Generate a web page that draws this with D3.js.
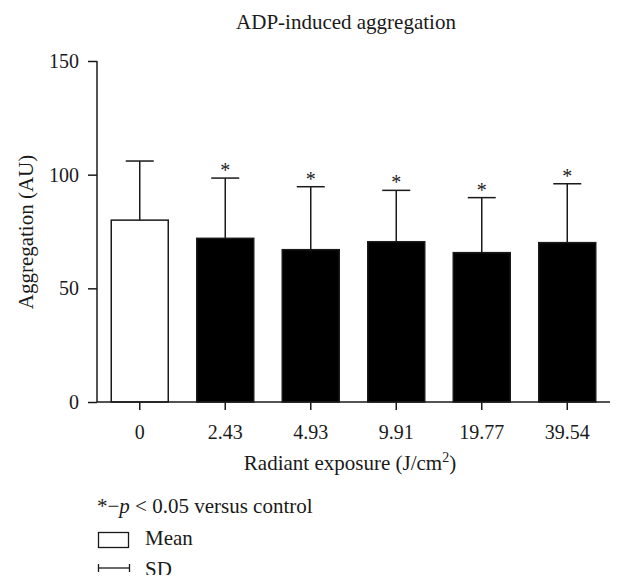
<!DOCTYPE html>
<html><head><meta charset="utf-8">
<script src="https://cdn.jsdelivr.net/npm/d3@7"></script>
<style>body{margin:0;background:#fff}svg{display:block}text{font-family:"Liberation Serif","DejaVu Serif",serif;fill:#1a1a1a}</style>
</head><body>
<script>
const categories = ["0","2.43","4.93","9.91","19.77","39.54"];
const means = [80, 72, 67, 70.5, 65.7, 70.1];
const sds = [26, 26.5, 27.7, 22.6, 24.2, 25.9];
const significant = [false, true, true, true, true, true];
const yTicks = [0, 50, 100, 150];

const W = 624, H = 587;
const svg = d3.select("body").append("svg").attr("width", W).attr("height", H);
const x = d3.scaleBand().domain(categories).range([97, 610]).paddingInner(1/3).paddingOuter(1/6);
const y = d3.scaleLinear().domain([0, 150]).range([402, 61]);

const col = "#1a1a1a";
const FS = 21;
// bars
svg.selectAll("rect.bar").data(categories).join("rect")
  .attr("x", d => x(d)).attr("width", x.bandwidth())
  .attr("y", (d,i) => y(means[i])).attr("height", (d,i) => y(0) - y(means[i]))
  .attr("fill", (d,i) => i === 0 ? "#fff" : "#000")
  .attr("stroke", col).attr("stroke-width", 1.5);
// error bars
const eb = svg.append("g").attr("stroke", col).attr("stroke-width", 1.5);
categories.forEach((c,i) => {
  const cx = x(c) + x.bandwidth()/2;
  eb.append("line").attr("x1", cx).attr("x2", cx).attr("y1", y(means[i])).attr("y2", y(means[i]+sds[i]));
  eb.append("line").attr("x1", cx-14).attr("x2", cx+14).attr("y1", y(means[i]+sds[i])).attr("y2", y(means[i]+sds[i]));
  if (significant[i]) {
    svg.append("text").attr("x", cx).attr("y", y(means[i]+sds[i]) - 1)
      .attr("text-anchor","middle").attr("font-size", 20).attr("fill", "#333").text("*");
  }
});

// axes
const ya = svg.append("g").attr("transform", "translate(97,0)")
  .call(d3.axisLeft(y).tickValues(yTicks).tickSize(9).tickPadding(9));
const xa = svg.append("g").attr("transform", "translate(0,402)")
  .call(d3.axisBottom(x).tickSize(8).tickPadding(15).tickSizeOuter(0));
[ya, xa].forEach(a => {
  a.select(".domain").attr("stroke", col).attr("stroke-width", 1.5);
  a.selectAll(".tick line").attr("stroke", col).attr("stroke-width", 1.5);
  a.selectAll(".tick text").attr("font-size", 20).attr("font-family", '"Liberation Serif",serif').attr("fill", col);
});
ya.select(".domain").attr("d", "M0,61V402");
xa.select(".domain").attr("d", "M97,0H610");

// titles
svg.append("text").attr("x", 346).attr("y", 29).attr("text-anchor","middle").attr("font-size", FS).text("ADP-induced aggregation");
svg.append("text").attr("transform", "translate(33,232) rotate(-90)").attr("text-anchor","middle").attr("font-size", FS).text("Aggregation (AU)");
const xt = svg.append("text").attr("x", 350).attr("y", 470).attr("text-anchor","middle").attr("font-size", FS);
xt.append("tspan").text("Radiant exposure (J/cm");
xt.append("tspan").attr("dy", -8).attr("font-size", 14).text("2");
xt.append("tspan").attr("dy", 8).text(")");

// legend
const lg = svg.append("text").attr("x", 97).attr("y", 513).attr("font-size", FS);
lg.append("tspan").text("*\u2212");
lg.append("tspan").attr("font-style","italic").text("p");
lg.append("tspan").text(" < 0.05 versus control");
svg.append("rect").attr("x", 98.5).attr("y", 532.5).attr("width", 30).attr("height", 15).attr("fill","#fff").attr("stroke", col).attr("stroke-width", 1.3);
svg.append("text").attr("x", 145).attr("y", 545).attr("font-size", FS).text("Mean");
svg.append("line").attr("x1", 98).attr("x2", 130).attr("y1", 568).attr("y2", 568).attr("stroke", col).attr("stroke-width", 1.3);
svg.append("line").attr("x1", 98.5).attr("x2", 98.5).attr("y1", 564).attr("y2", 572).attr("stroke", col).attr("stroke-width", 1.3);
svg.append("line").attr("x1", 129.5).attr("x2", 129.5).attr("y1", 564).attr("y2", 572).attr("stroke", col).attr("stroke-width", 1.3);
svg.append("defs").append("clipPath").attr("id", "cut").append("rect").attr("x", 0).attr("y", 0).attr("width", W).attr("height", 575);
svg.append("text").attr("x", 145).attr("y", 576).attr("font-size", FS).attr("clip-path", "url(#cut)").text("SD");
</script>
</body></html>
